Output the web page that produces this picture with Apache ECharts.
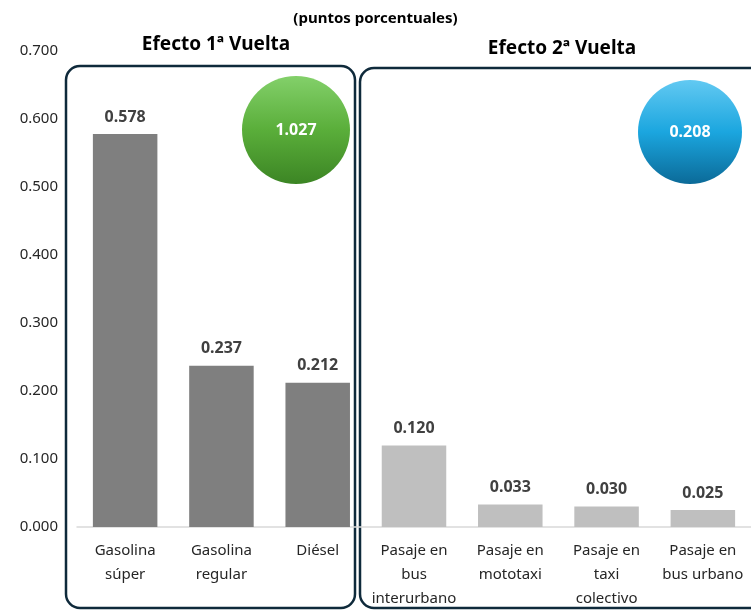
<!DOCTYPE html>
<html>
<head>
<meta charset="utf-8">
<script src="https://cdn.jsdelivr.net/npm/echarts@6/dist/echarts.min.js"></script>
<style>
  html, body { margin: 0; padding: 0; background: #fff; }
  #chart { width: 751px; height: 611px; }
</style>
</head>
<body>
<div id="chart"></div>
<script>
const categories = [
  'Gasolina\nsúper', 'Gasolina\nregular', 'Diésel',
  'Pasaje en\nbus\ninterurbano', 'Pasaje en\nmototaxi',
  'Pasaje en\ntaxi\ncolectivo', 'Pasaje en\nbus urbano'
]
const values = [0.578, 0.237, 0.212, 0.120, 0.033, 0.030, 0.025]
const firstRoundCount = 3
const firstRoundTotal = '1.027'
const secondRoundTotal = '0.208'
const yTicks = [0, 0.1, 0.2, 0.3, 0.4, 0.5, 0.6, 0.7]

const font = 'Noto Sans'
let myChart = echarts.init(document.getElementById('chart'))

myChart.setOption({
  animation: false,
  textStyle: { fontFamily: font },
  title: {
    text: '(puntos porcentuales)',
    left: 'center',
    top: 6,
    textStyle: { fontSize: 15, fontWeight: 'bold', color: '#000', fontFamily: font },
  },
  grid: { left: 77, right: 0, top: 51, bottom: 83 },
  xAxis: {
    type: 'category',
    data: categories,
    axisLine: { lineStyle: { color: '#d9d9d9', width: 1.5 } },
    axisTick: { show: false },
    axisLabel: { color: '#262626', fontSize: 15, lineHeight: 24, margin: 12, interval: 0 },
  },
  yAxis: {
    type: 'value',
    min: yTicks[0],
    max: yTicks[yTicks.length - 1],
    interval: 0.1,
    axisLine: { show: false },
    axisTick: { show: false },
    splitLine: { show: false },
    axisLabel: {
      color: '#262626',
      fontSize: 15,
      margin: 19,
      formatter: (v) => v.toFixed(3),
    },
  },
  series: [
    {
      type: 'bar',
      barWidth: '67%',
      data: values.map((v, i) => ({
        value: v,
        itemStyle: { color: i < firstRoundCount ? '#7f7f7f' : '#bfbfbf' },
      })),
      label: {
        show: true,
        position: 'top',
        distance: 9,
        color: '#404040',
        fontSize: 16,
        fontWeight: 'bold',
        formatter: (p) => p.value.toFixed(3),
      },
    },
  ],
  graphic: [
    {
      type: 'rect',
      shape: { x: 66, y: 66, width: 289, height: 542, r: 14 },
      style: { fill: 'none', stroke: '#0f2a3b', lineWidth: 2.5 },
    },
    {
      type: 'rect',
      shape: { x: 360, y: 68, width: 410, height: 540, r: 14 },
      style: { fill: 'none', stroke: '#0f2a3b', lineWidth: 2.5 },
    },
    {
      type: 'text',
      x: 216, y: 45,
      style: {
        text: 'Efecto 1ª Vuelta', fill: '#000', font: 'bold 19px "Noto Sans"',
        textAlign: 'center', textVerticalAlign: 'middle',
      },
    },
    {
      type: 'text',
      x: 562, y: 49,
      style: {
        text: 'Efecto 2ª Vuelta', fill: '#000', font: 'bold 19px "Noto Sans"',
        textAlign: 'center', textVerticalAlign: 'middle',
      },
    },
    {
      type: 'circle',
      shape: { cx: 296, cy: 130, r: 54 },
      style: {
        fill: new echarts.graphic.LinearGradient(0, 0, 0, 1, [
          { offset: 0, color: '#83d06a' },
          { offset: 0.5, color: '#5aae3a' },
          { offset: 1, color: '#3c8524' },
        ]),
      },
    },
    {
      type: 'text',
      x: 296, y: 130,
      style: {
        text: firstRoundTotal, fill: '#fff', font: 'bold 16px "Noto Sans"',
        textAlign: 'center', textVerticalAlign: 'middle',
      },
    },
    {
      type: 'circle',
      shape: { cx: 690, cy: 132, r: 52 },
      style: {
        fill: new echarts.graphic.LinearGradient(0, 0, 0, 1, [
          { offset: 0, color: '#62c9f2' },
          { offset: 0.5, color: '#1ba6df' },
          { offset: 1, color: '#0b6a98' },
        ]),
      },
    },
    {
      type: 'text',
      x: 690, y: 132,
      style: {
        text: secondRoundTotal, fill: '#fff', font: 'bold 16px "Noto Sans"',
        textAlign: 'center', textVerticalAlign: 'middle',
      },
    },
  ],
})
</script>
</body>
</html>
